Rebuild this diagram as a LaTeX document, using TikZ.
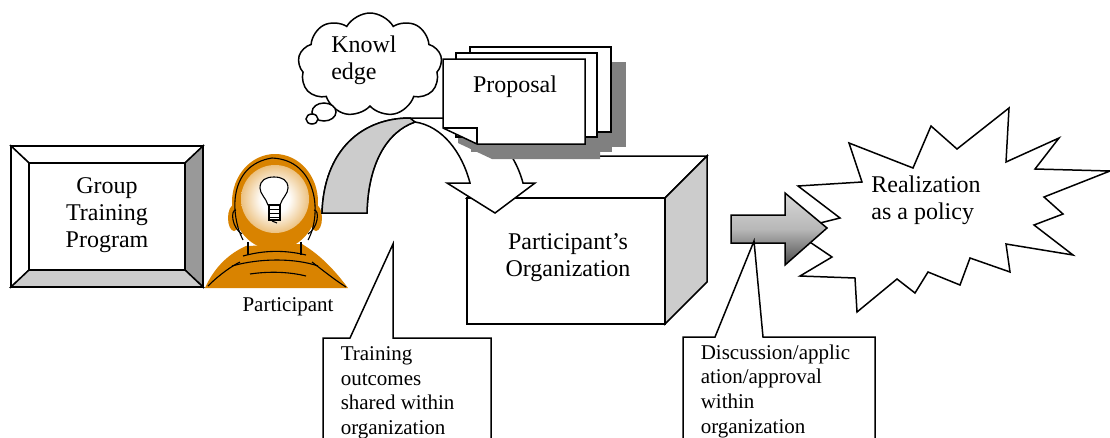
\documentclass[tikz,border=0pt]{standalone}
\usepackage{fontspec}
\setmainfont{Liberation Serif}
\usetikzlibrary{shapes.symbols}
\definecolor{facegray}{HTML}{CCCCCC}
\definecolor{sidegray}{HTML}{999999}
\definecolor{shadowgray}{HTML}{808080}
\definecolor{headorange}{HTML}{D98300}
\pgfdeclareradialshading{glow}{\pgfpoint{0bp}{0bp}}{color(0bp)=(white); color(10bp)=(white); color(40bp)=(headorange); color(50bp)=(headorange)}
\begin{document}
\begin{tikzpicture}[x=1pt, y=-1pt, line width=1.5pt,
    label/.style={font=\fontsize{24}{27}\selectfont, align=center, inner sep=0pt},
    note/.style={font=\fontsize{21}{24.6}\selectfont, align=left, inner sep=0pt, anchor=north west},
    sketch/.style={line width=1.1pt}]
  \clip (0,0) rectangle (1110,437);
  % training program frame
  \draw[fill=white] (11,146) -- (203,146) -- (185,163) -- (29,163) -- cycle;
  \draw[fill=white] (11,146) -- (29,163) -- (29,270) -- (11,287) -- cycle;
  \draw[fill=sidegray] (203,146) -- (203,287) -- (185,270) -- (185,163) -- cycle;
  \draw[fill=facegray] (11,287) -- (203,287) -- (185,270) -- (29,270) -- cycle;
  \draw[fill=white] (29,163) rectangle (185,270);
  \draw[line width=2pt] (11,146) rectangle (203,287);
  % participant
  \fill[headorange] (275,202) ellipse[x radius=43, y radius=48];
  \fill[headorange] (205,288) .. controls (214,268) and (228,254) .. (246,246) -- (302,244)
    .. controls (322,256) and (336,272) .. (348,288) -- cycle;
  \fill[headorange] (234,218) ellipse[x radius=6, y radius=13];
  \fill[headorange] (316,218) ellipse[x radius=6, y radius=13];
  \shade[shading=glow] (275,199) circle[radius=34];
  \begin{scope}[sketch]
    \draw (243,240) .. controls (230,215) and (228,165) .. (272,158) .. controls (318,160) and (322,215) .. (308,240);
    \draw (236,210) .. controls (230,210) and (232,228) .. (242,234);
    \draw (314,210) .. controls (320,210) and (318,228) .. (308,234);
    \draw (248,242) -- (248,255);
    \draw (301,242) -- (301,255);
    \draw (243,256) .. controls (265,250) and (285,250) .. (306,255);
    \draw (232,266) .. controls (260,258) and (295,258) .. (318,266);
    \draw (208,286) .. controls (220,274) and (232,266) .. (240,262);
    \draw (312,262) .. controls (325,272) and (335,280) .. (346,287);
    \draw (250,274) .. controls (270,271) and (290,272) .. (306,276);
  \end{scope}
  \draw[sketch, fill=white] (268,205) .. controls (266,198) and (260,194) .. (260,188)
    .. controls (260,180) and (266,177) .. (274,177) .. controls (282,177) and (288,180) .. (288,188)
    .. controls (288,194) and (282,198) .. (280,205) -- cycle;
  \draw[sketch, fill=white] (269,205) rectangle (280,220);
  \draw[line width=0.8pt] (269,209) -- (280,209) (269,213) -- (280,213) (269,217) -- (280,217);
  \draw[sketch] (272,221) -- (277,223);
  % organization box
  \draw[fill=white] (467,198) -- (509,156) -- (707,156) -- (665,198) -- cycle;
  \draw[fill=facegray] (665,198) -- (707,156) -- (707,282) -- (665,324) -- cycle;
  \draw[fill=white] (467,198) rectangle (665,324);
  % curved arrow
  \draw[fill=white] (322,213) .. controls (324,150) and (362,118) .. (410,118) -- (450,118)
    .. controls (490,122) and (514,150) .. (523,183) -- (535,183) -- (495,213) -- (447,183) -- (470,183)
    .. controls (462,152) and (442,126) .. (415,122) .. controls (386,132) and (368,165) .. (367,213) -- cycle;
  \draw[fill=facegray] (322,213) .. controls (324,150) and (362,118) .. (410,118) -- (415,122)
    .. controls (386,132) and (368,165) .. (367,213) -- cycle;
  % proposal stack
  \begin{scope}[shift={(15,15)}]
    \fill[shadowgray] (470,47) rectangle (611,132);
    \fill[shadowgray] (456,53) rectangle (597,137);
    \fill[shadowgray] (443,59) -- (585,59) -- (585,144) -- (477,144) -- (443,128) -- cycle;
  \end{scope}
  \draw[fill=white] (470,47) rectangle (611,132);
  \draw[fill=white] (456,53) rectangle (597,137);
  \draw[fill=white] (443,59) -- (585,59) -- (585,144) -- (477,144) -- (443,128) -- cycle;
  \draw (443,128) -- (477,128) -- (477,144);
  % thought cloud
  \node[cloud, draw, fill=white, cloud puffs=9, cloud puff arc=120, aspect=1.35,
    minimum width=144, minimum height=104, inner sep=0pt] (cloud) at (370,65) {};
  \draw[fill=white] (324,112) ellipse[x radius=12, y radius=9];
  \draw[fill=white] (312,119) ellipse[x radius=6, y radius=5];
  % realization burst
  \draw[fill=white] (798,186) -- (862,182) -- (849,143) -- (913,168) -- (931,126) -- (957,149)
    -- (1009,108) -- (1006,162) -- (1059,138) -- (1035,169) -- (1110,171) -- (1044,197)
    -- (1063,214) -- (1034,225) -- (1073,255) -- (1006,244) -- (1010,272) -- (970,258)
    -- (960,285) -- (928,272) -- (915,293) -- (897,279) -- (857,312) -- (855,278)
    -- (800,276) -- (832,257) -- (792,230) -- (840,218) -- cycle;
  % block arrow
  \draw[top color=black!15, bottom color=black!70, middle color=black!28] (731,215) -- (785,215)
    -- (785,193) -- (827,228) -- (785,265) -- (785,243) -- (731,243) -- cycle;
  % callouts
  \coordinate (sharetip) at (393,244);
  \coordinate (policytip) at (754,241);
  \draw[fill=white] (323,338) -- (350,338) -- (sharetip) -- (393,338) -- (491,338) -- (491,460)
    -- (323,460) -- cycle;
  \draw[fill=white] (683,337) -- (715,337) -- (policytip) -- (763,337) -- (875,337) -- (875,460)
    -- (683,460) -- cycle;
  % texts
  \node[label] (program) at (107,215) {Group\\Training\\Program};
  \node[label, font=\fontsize{21}{24}\selectfont] (participant) at (288,307) {Participant};
  \node[label, align=left] (knowledge) at (364,60) {Knowl\\edge};
  \node[label] (proposal) at (515,87) {Proposal};
  \node[label] (organization) at (568,258) {Participant’s\\Organization};
  \node[label, align=left] (realization) at (926,200) {Realization\\as a policy};
  \node[note] (sharing) at (340,346) {Training\\outcomes\\shared within\\organization};
  \node[note] (approval) at (700,344) {Discussion/applic\\ation/approval\\within\\organization};
\end{tikzpicture}
\end{document}
